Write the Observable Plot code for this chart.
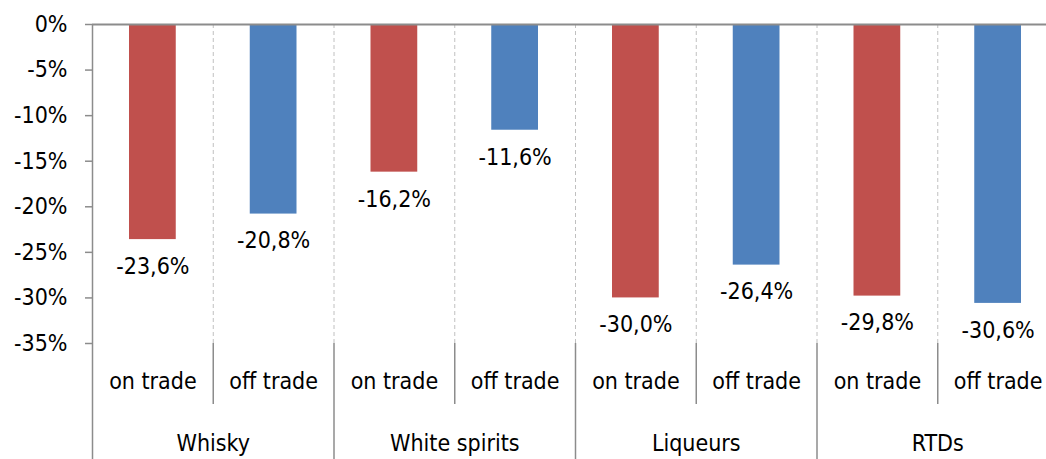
<!DOCTYPE html>
<html><head><meta charset="utf-8">
<script src="https://cdn.jsdelivr.net/npm/d3@7"></script>
<script src="https://cdn.jsdelivr.net/npm/@observablehq/plot@0.6"></script>
<style>
html,body{margin:0;padding:0;background:#fff;overflow:hidden}
</style></head><body><div id="chart"></div>
<script>
const groups = ["Whisky", "White spirits", "Liqueurs", "RTDs"];
const channels = ["on trade", "off trade"];
const values = [-23.6, -20.8, -16.2, -11.6, -30.0, -26.4, -29.8, -30.6];
const yTicks = [0, -5, -10, -15, -20, -25, -30, -35];
const colors = ["#C0504D", "#4F81BD"];

const rows = values.map((v, i) => ({slot: i, group: groups[Math.floor(i / 2)], channel: channels[i % 2], value: v}));
const fmt = v => v.toFixed(1).replace(".", ",") + "%";
const slotBounds = d3.range(1, values.length + 1);
const subBounds = slotBounds.filter(d => d % 2 === 1);
const groupBounds = slotBounds.filter(d => d % 2 === 0);

const grid = "#c0c0c0", axisC = "#8c8c8c";

const chart = Plot.plot({
  width: 1046,
  height: 459,
  marginLeft: 92,
  marginRight: 0,
  marginTop: 24,
  marginBottom: 116,
  style: {fontFamily: "'DejaVu Sans Condensed', 'DejaVu Sans', sans-serif", fontSize: "23px", color: "black", background: "white"},
  x: {domain: [0, values.length], range: [92, 1058], axis: null},
  y: {domain: [-35, 0], axis: null},
  color: {domain: channels, range: colors},
  marks: [
    Plot.ruleX(slotBounds, {x: d => d, stroke: grid, strokeDasharray: "4,3", strokeWidth: 1}),
    Plot.rectY(rows, {x1: "slot", x2: d => d.slot + 1, y1: 0, y2: "value", fill: "channel", insetLeft: 37, insetRight: 37}),
    Plot.ruleY([0], {stroke: axisC, strokeWidth: 2}),
    Plot.ruleX([0], {stroke: axisC, strokeWidth: 1.5, insetBottom: -116}),
    Plot.ruleX(subBounds, {x: d => d, stroke: axisC, strokeWidth: 1.5, insetTop: 319, insetBottom: -61}),
    Plot.ruleX(groupBounds, {x: d => d, stroke: axisC, strokeWidth: 1.5, insetTop: 319, insetBottom: -116}),
    Plot.axisY(yTicks, {tickFormat: d => `${d}%`, tickSize: 7, tickPadding: 18, stroke: axisC, strokeWidth: 1.5, fill: "black", label: null}),
    Plot.text(rows, {x: d => d.slot + 0.5, y: "value", text: d => fmt(d.value), dy: 27, fill: "black"}),
    Plot.text(rows, {x: d => d.slot + 0.5, text: "channel", frameAnchor: "bottom", dy: 45, fill: "black"}),
    Plot.text(groups, {x: (d, i) => 2 * i + 1, text: d => d, frameAnchor: "bottom", dy: 107, fill: "black"})
  ]
});
document.getElementById("chart").appendChild(chart);
</script></body></html>
